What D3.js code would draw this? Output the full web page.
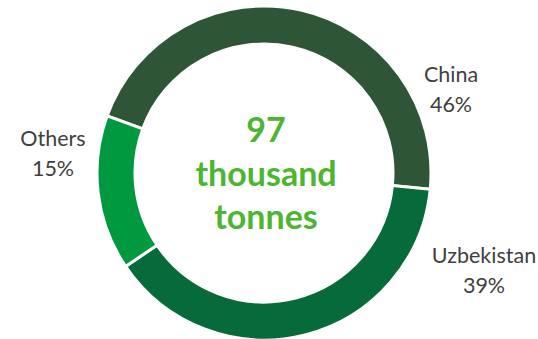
<!DOCTYPE html>
<html>
<head>
<meta charset="utf-8">
<script src="https://cdn.jsdelivr.net/npm/d3@7"></script>
<style>
  html, body { margin: 0; padding: 0; background: #ffffff; }
  svg { display: block; }
  text { font-family: Lato, "Open Sans", sans-serif; }
</style>
</head>
<body>
<svg id="chart" width="538" height="339"></svg>
<script>
// Production shares by country
const countries = ["China", "Uzbekistan", "Others"];
const shares = [46, 39, 15];
const colors = ["#2e5536", "#066b39", "#00993f"];
const totalLines = ["97", "thousand", "tonnes"];

const width = 538, height = 339;
const cx = 264, cy = 173;
const outerR = 167, innerR = 129;

const svg = d3.select("#chart");
const g = svg.append("g").attr("transform", `translate(${cx},${cy})`);

const startDeg = -70;
const pie = d3.pie()
  .sort(null)
  .value(d => d.value)
  .startAngle(startDeg * Math.PI / 180)
  .endAngle((startDeg + 360) * Math.PI / 180);

const arc = d3.arc().innerRadius(innerR).outerRadius(outerR);

const data = countries.map((c, i) => ({ name: c, value: shares[i], color: colors[i] }));
const arcs = pie(data);

g.selectAll("path.slice")
  .data(arcs)
  .join("path")
  .attr("class", "slice")
  .attr("d", arc)
  .attr("fill", d => d.data.color)
  .attr("stroke", "#ffffff")
  .attr("stroke-width", 3)
  .attr("stroke-linejoin", "miter");

// Outside labels: name and percentage
const labelPos = {
  "China": [451, 82],
  "Uzbekistan": [484, 263],
  "Others": [53, 146]
};
const lineGap = 29.5;
data.forEach(d => {
  const [x, y] = labelPos[d.name];
  const t = svg.append("text")
    .attr("text-anchor", "middle")
    .attr("fill", "#404040")
    .attr("font-size", 21.5);
  t.append("tspan").attr("x", x).attr("y", y).text(d.name);
  t.append("tspan").attr("x", x).attr("y", y + lineGap).text(d.value + "%");
});

// Total in the centre
const center = g.append("text")
  .attr("text-anchor", "middle")
  .attr("fill", "#4cb631")
  .attr("font-weight", "bold")
  .attr("font-size", 34);
totalLines.forEach((line, i) => {
  center.append("tspan")
    .attr("x", 2)
    .attr("y", -31 + i * 43.5)
    .text(line);
});
</script>
</body>
</html>
